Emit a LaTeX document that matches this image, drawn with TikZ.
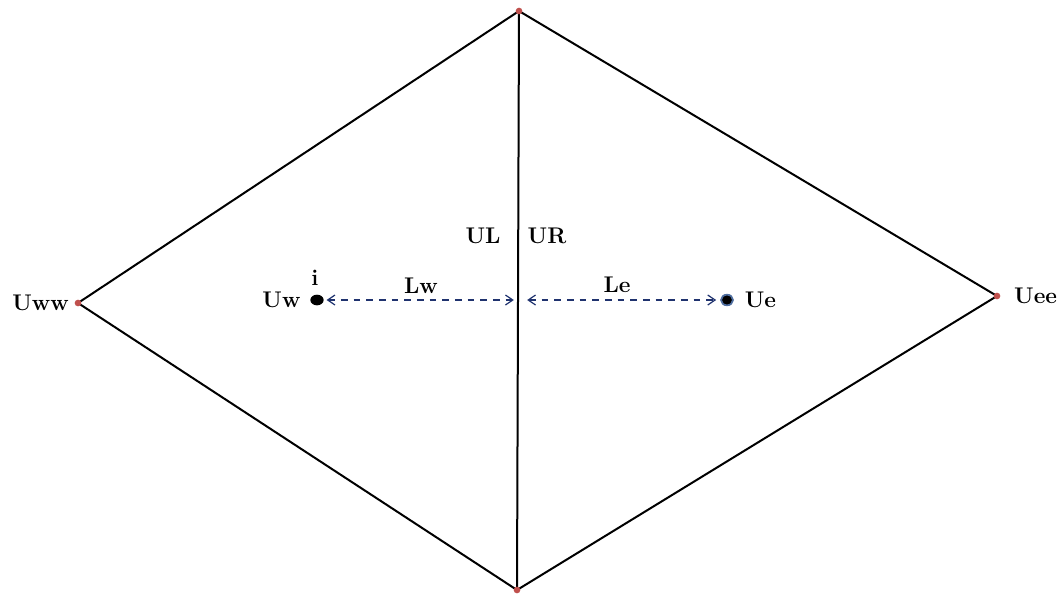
\documentclass[tikz,border=0pt]{standalone}
\usepackage{tikz}
\usetikzlibrary{
    positioning,
    arrows.meta,
    shapes.geometric
}

\definecolor{arrowblue}{RGB}{31,50,110}
\definecolor{vertexred}{RGB}{192,80,77}
\definecolor{ringblue}{RGB}{79,110,160}

\begin{document}
\begin{tikzpicture}[
    x=0.75pt, y=-0.75pt,
    every node/.style={font=\bfseries\fontsize{17}{19}\selectfont},
    edge/.style={line width=1.5pt, black},
    vertex/.style={circle, fill=vertexred, inner sep=0pt, minimum size=5pt},
    cellpt/.style={ellipse, fill=black, inner sep=0pt, minimum width=10pt, minimum height=8pt},
    dist/.style={<->, >={Straight Barb[length=5.5pt, width=7.5pt]}, line width=0.9pt, draw=arrowblue, dash pattern=on 5pt off 4.5pt},
    lbl/.style={inner sep=1pt}
]
\useasboundingbox (0,0) rectangle (1061,594);

% ================= VERTEX POSITIONS =================
\coordinate (top) at (519,11);
\coordinate (bot) at (517,590);
\coordinate (ww) at (78,303);
\coordinate (ee) at (997,296);
\coordinate (face) at (520.5,300);

% ================= EDGES =================
\draw[edge] (ww) -- (top) -- (ee) -- (bot) -- cycle;
\draw[edge] (top) -- (bot);

% ================= VERTICES =================
\node[vertex] (ntop) at (top) {};
\node[vertex] (nbot) at (bot) {};
\node[vertex] (nww) at (ww) {};
\node[vertex] (nee) at (ee) {};

% ================= CELL CENTRES =================
\node[cellpt] (w) at (317,300) {};
\node[cellpt, draw=ringblue, line width=1.3pt, minimum width=9pt, minimum height=8pt] (e) at (727,300) {};

% ================= ARROWS =================
\draw[dist] ([xshift=2]w.east) -- ([xshift=-5]face);
\draw[dist] ([xshift=5]face) -- ([xshift=-3]e.west);

% ================= LABELS =================
\node[lbl, left=3pt of nww] (lww) {Uww};
\node[lbl, right=9pt of nee] (lee) {Uee};
\node[lbl, left=6pt of w] (lw) {Uw};
\node[lbl, right=7pt of e] (le) {Ue};
\node[lbl] (li) at (315,278) {i};
\node[lbl] (llw) at (421,286) {Lw};
\node[lbl] (lle) at (617,285) {Le};
\node[lbl] (lul) at (483,236) {UL};
\node[lbl] (lur) at (547,236) {UR};

\end{tikzpicture}
\end{document}
